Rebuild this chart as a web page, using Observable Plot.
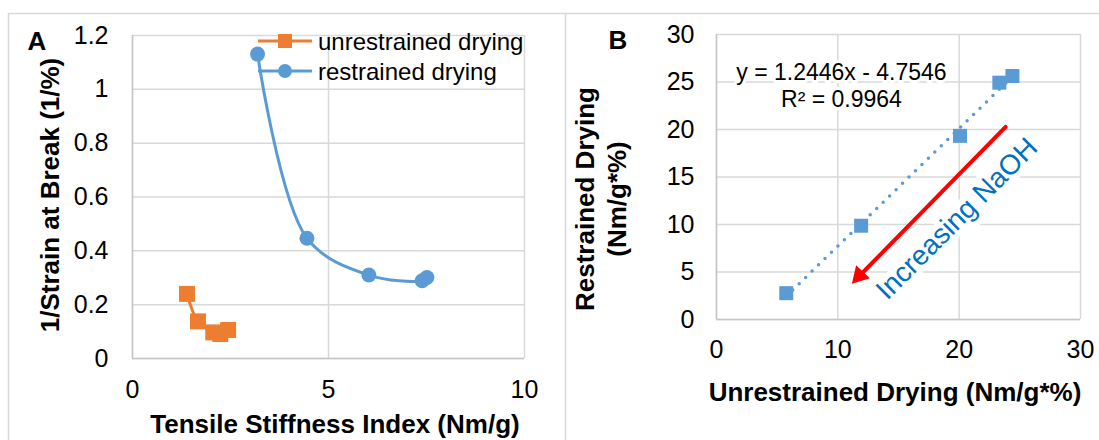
<!DOCTYPE html>
<html>
<head>
<meta charset="utf-8">
<script src="https://cdn.jsdelivr.net/npm/d3@7"></script>
<script src="https://cdn.jsdelivr.net/npm/@observablehq/plot@0.6"></script>
<style>
  body { margin: 0; background: #fff; font-family: "Liberation Sans", Arial, sans-serif; }
  #wrap { position: relative; width: 1099px; height: 440px; overflow: hidden; background: #fff; }
  #wrap > svg { position: absolute; top: 0; }
</style>
</head>
<body>
<div id="wrap"></div>
<script>
// ---------- Panel A data ----------
const seriesNames = ["unrestrained drying", "restrained drying"];
const unrestrainedStiffness = [1.39, 1.67, 2.06, 2.24, 2.44];
const unrestrainedInvStrain = [0.240, 0.138, 0.097, 0.091, 0.106];
const restrainedStiffness = [3.19, 4.45, 6.03, 7.39, 7.51];
const restrainedInvStrain = [1.131, 0.447, 0.310, 0.289, 0.301];
const xTicksA = [0, 5, 10];
const yTicksA = [0, 0.2, 0.4, 0.6, 0.8, 1, 1.2];

// ---------- Panel B data ----------
const unrestrainedDrying = [5.75, 11.92, 20.07, 23.31, 24.39];
const restrainedDrying = [2.77, 9.87, 19.33, 24.93, 25.63];
const xTicksB = [0, 10, 20, 30];
const yTicksB = [0, 5, 10, 15, 20, 25, 30];
const equationLines = ["y = 1.2446x - 4.7546", "R² = 0.9964"];
const equationX = [10.3, 10.3];
const equationY = [26.0, 23.1];
const arrowFrom = [23.83, 20.28];
const arrowTo = [11.16, 3.78];
const noteText = "Increasing NaOH";
const notePos = [19.8, 10.6];

// ---------- styles ----------
const ORANGE = "#ED7D31", BLUE = "#5B9BD5", GRID = "#d9d9d9", AXIS = "#c6c6c6";
const FONT = "'Liberation Sans', Arial, sans-serif";
const fmt = d3.format("~g");

const rowsUn = unrestrainedStiffness.map((x, i) => ({series: seriesNames[0], x, y: unrestrainedInvStrain[i]}));
const rowsRe = restrainedStiffness.map((x, i) => ({series: seriesNames[1], x, y: restrainedInvStrain[i]}));
const rowsB = unrestrainedDrying.map((x, i) => ({x, y: restrainedDrying[i]}));
const eqRows = equationLines.map((t, i) => ({text: t, x: equationX[i], y: equationY[i]}));
const arrowRows = [{x1: arrowFrom[0], y1: arrowFrom[1], x2: arrowTo[0], y2: arrowTo[1]}];
const noteRows = [{text: noteText, x: notePos[0], y: notePos[1]}];

const wrap = document.getElementById("wrap");

const plotA = Plot.plot({
  width: 565, height: 440,
  marginLeft: 132, marginRight: 41, marginTop: 35, marginBottom: 82,
  style: {fontFamily: FONT, fontSize: "25px", color: "#000", background: "transparent", overflow: "visible"},
  x: {domain: [0, 10]},
  y: {domain: [0, 1.2]},
  marks: [
    Plot.gridX(xTicksA, {stroke: GRID, strokeOpacity: 1, strokeWidth: 1.5}),
    Plot.gridY(yTicksA, {stroke: GRID, strokeOpacity: 1, strokeWidth: 1.5}),
    Plot.ruleX([0], {stroke: AXIS, strokeWidth: 1.5}),
    Plot.ruleY([0], {stroke: AXIS, strokeWidth: 1.5}),
    Plot.axisX(xTicksA, {tickSize: 0, tickPadding: 22, fontSize: 25, label: null, tickFormat: fmt}),
    Plot.axisY(yTicksA, {tickSize: 0, tickPadding: 24, fontSize: 25, label: null, tickFormat: fmt}),
    Plot.line(rowsUn, {x: "x", y: "y", stroke: ORANGE, strokeWidth: 3, curve: "catmull-rom"}),
    Plot.dot(rowsUn, {x: "x", y: "y", symbol: "square", r: 9, fill: ORANGE}),
    Plot.line(rowsRe, {x: "x", y: "y", stroke: BLUE, strokeWidth: 3, curve: "catmull-rom"}),
    Plot.dot(rowsRe, {x: "x", y: "y", symbol: "circle", r: 7.5, fill: BLUE})
  ]
});
plotA.style.left = "0px";
wrap.appendChild(plotA);

const plotB = Plot.plot({
  width: 534, height: 440,
  marginLeft: 151, marginRight: 19, marginTop: 34, marginBottom: 121,
  style: {fontFamily: FONT, fontSize: "25px", color: "#000", background: "transparent", overflow: "visible"},
  x: {domain: [0, 30]},
  y: {domain: [0, 30]},
  marks: [
    Plot.gridX(xTicksB, {stroke: GRID, strokeOpacity: 1, strokeWidth: 1.5}),
    Plot.gridY(yTicksB, {stroke: GRID, strokeOpacity: 1, strokeWidth: 1.5}),
    Plot.ruleX([0], {stroke: AXIS, strokeWidth: 1.5}),
    Plot.ruleY([0], {stroke: AXIS, strokeWidth: 1.5}),
    Plot.axisX(xTicksB, {tickSize: 0, tickPadding: 21, fontSize: 25, label: null, tickFormat: fmt}),
    Plot.axisY(yTicksB, {tickSize: 0, tickPadding: 22, fontSize: 25, label: null, tickFormat: fmt}),
    Plot.text(noteRows, {x: "x", y: "y", text: "text", rotate: -45, fontSize: 28, fill: "#0070C0", stroke: "white", strokeWidth: 12}),
    Plot.linearRegressionY(rowsB, {x: "x", y: "y", ci: 0, stroke: BLUE, strokeWidth: 3.5, strokeDasharray: "0 9", strokeLinecap: "round"}),
    Plot.dot(rowsB, {x: "x", y: "y", symbol: "square", r: 7.9, fill: BLUE}),
    Plot.text(eqRows, {x: "x", y: "y", text: "text", fontSize: 23, fill: "#000", stroke: "white", strokeWidth: 6}),
    Plot.arrow(arrowRows, {x1: "x1", y1: "y1", x2: "x2", y2: "y2", stroke: "#FF0000", strokeWidth: 4, headLength: 0, insetEnd: 12}),
    Plot.dot(arrowRows, {x: "x2", y: "y2", symbol: "triangle", r: 7, fill: "#FF0000", rotate: 223, dx: 7.4, dy: -7.9})
  ]
});
plotB.style.left = "565px";
wrap.appendChild(plotB);

// ---------- overlay: frames, panel letters, axis titles, legend ----------
const ov = d3.select(wrap).append("svg")
  .attr("width", 1099).attr("height", 440)
  .style("left", "0px").style("pointer-events", "none")
  .style("font-family", FONT);

ov.append("path").attr("d", "M8.5,440V13.5H1099M565.5,13.5V440")
  .attr("fill", "none").attr("stroke", GRID).attr("stroke-width", 1.5);

function label(x, y, text, opts = {}) {
  const t = ov.append("text").attr("x", x).attr("y", y).text(text)
    .attr("font-size", opts.size || 26)
    .attr("font-weight", opts.weight || "bold")
    .attr("text-anchor", opts.anchor || "middle")
    .attr("fill", opts.fill || "#000");
  if (opts.rotate) t.attr("transform", `rotate(${opts.rotate},${x},${y})`);
  return t;
}
label(37, 50, "A", {size: 26});
label(618, 49, "B", {size: 26});
label(335, 433, "Tensile Stiffness Index (Nm/g)");
label(59, 195, "1/Strain at Break (1/%)", {rotate: -90});
label(895, 401, "Unrestrained Drying (Nm/g*%)");
label(594, 199, "Restrained Drying", {rotate: -90});
label(626, 199, "(Nm/g*%)", {rotate: -90});

// legend
const legend = ov.append("g");
const legendItems = [
  {name: seriesNames[0], color: ORANGE, symbol: d3.symbolSquare, size: 196, y: 41},
  {name: seriesNames[1], color: BLUE, symbol: d3.symbolCircle, size: 150, y: 71}
];
legendItems.forEach(d => {
  legend.append("line").attr("x1", 258).attr("x2", 312).attr("y1", d.y).attr("y2", d.y)
    .attr("stroke", d.color).attr("stroke-width", 3);
  legend.append("path").attr("d", d3.symbol(d.symbol, d.size)()).attr("transform", `translate(285,${d.y})`)
    .attr("fill", d.color);
  legend.append("text").attr("x", 318).attr("y", d.y + 9).text(d.name)
    .attr("font-size", 24).attr("fill", "#000");
});
</script>
</body>
</html>
